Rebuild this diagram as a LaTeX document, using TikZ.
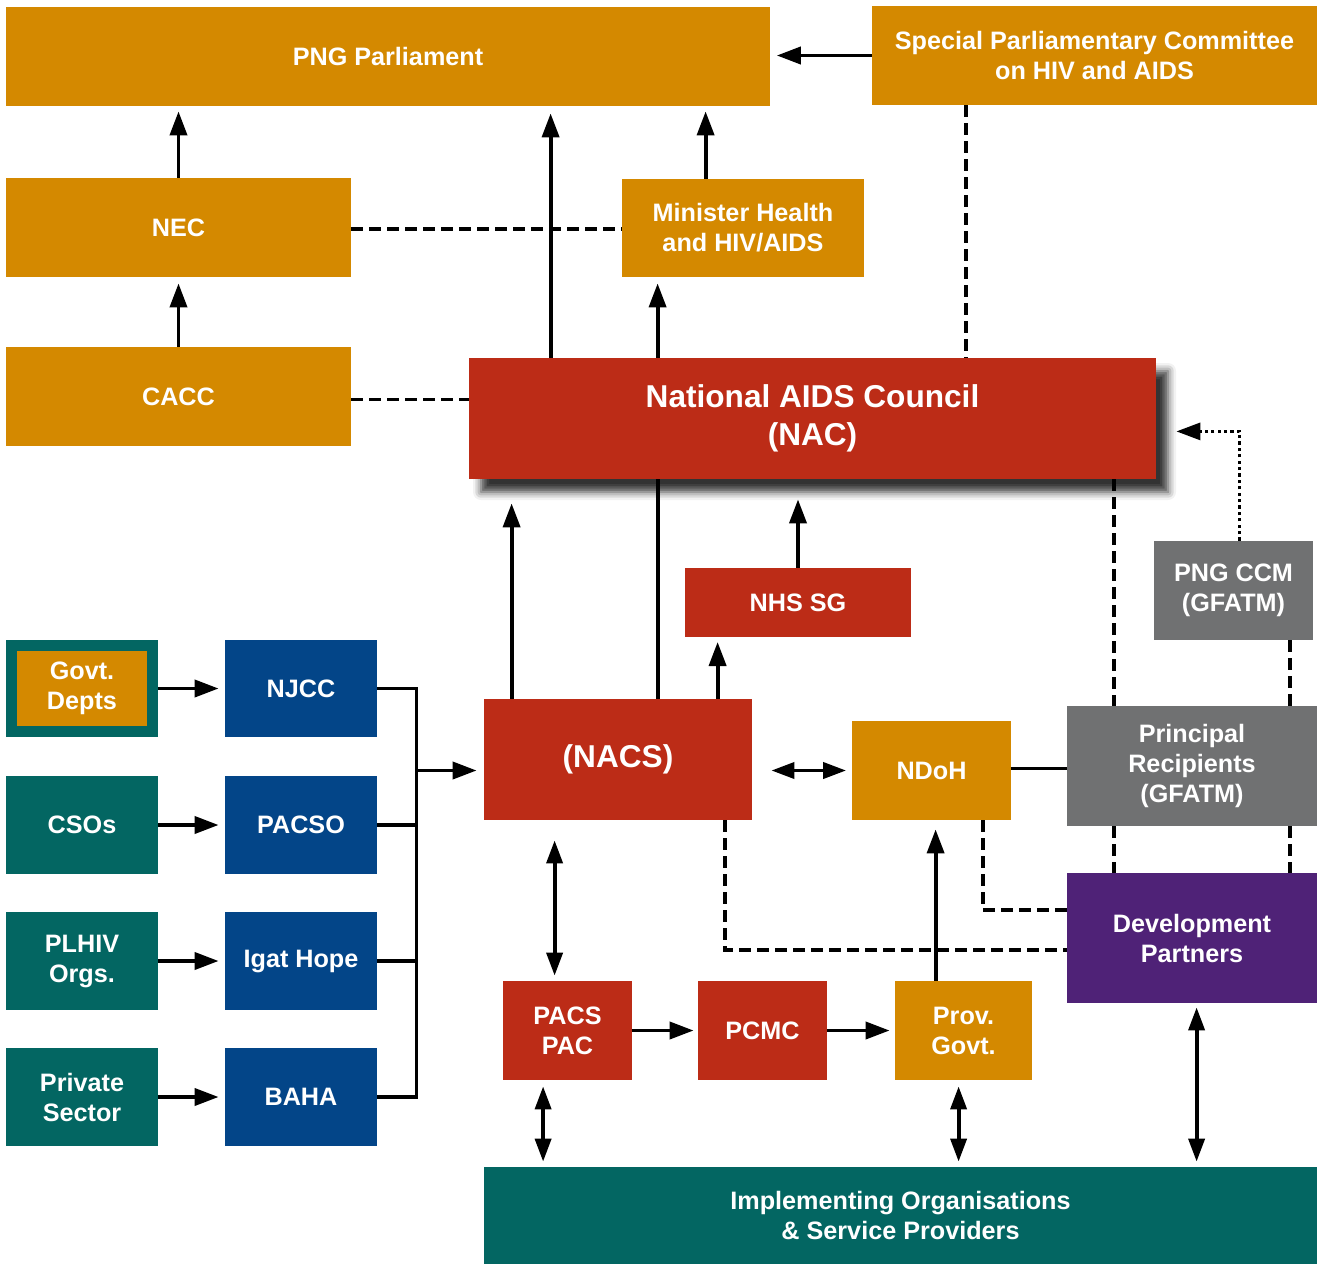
\documentclass[tikz,border=0pt]{standalone}
\usepackage{fontspec}
\setmainfont{Liberation Sans}
\usetikzlibrary{arrows.meta,fit,calc,shadows.blur}
\definecolor{cOr}{HTML}{D48900}
\definecolor{cRed}{HTML}{BC2C17}
\definecolor{cTeal}{HTML}{036662}
\definecolor{cBlue}{HTML}{034588}
\definecolor{cGray}{HTML}{707172}
\definecolor{cPur}{HTML}{4F2277}
\begin{document}
\begin{tikzpicture}[x=0.5pt,y=-0.5pt,
  box/.style={inner sep=0pt, draw=none},
  txt/.style={inner sep=0pt, text=white, align=center,
    font=\bfseries\fontsize{12.6pt}{15pt}\selectfont},
  bigtxt/.style={txt, font=\bfseries\fontsize{15.8pt}{19pt}\selectfont},
  arr/.style={line width=1.9pt, -{Triangle[length=12pt,width=8.5pt]}},
  darr/.style={line width=1.9pt, {Triangle[length=11.5pt,width=8pt]}-{Triangle[length=11.5pt,width=8pt]}},
  ln/.style={line width=1.9pt},
  dashln/.style={line width=1.9pt, dash pattern=on 6pt off 3pt},
  dotln/.style={line width=1.6pt, dash pattern=on 1.6pt off 1.6pt}]
\useasboundingbox (0,0) rectangle (1317,1264);
% ---------- boxes ----------
\node[box, fill=cOr, fit={(6,7) (770,106)}, label={[txt]center:PNG Parliament}] (parl) {};
\node[box, fill=cOr, fit={(872,6) (1317,105)}, label={[txt]center:{Special Parliamentary Committee\\on HIV and AIDS}}] (spc) {};
\node[box, fill=cOr, fit={(6,178) (351,277)}, label={[txt]center:NEC}] (nec) {};
\node[box, fill=cOr, fit={(622,179) (864,277)}, label={[txt]center:{Minister Health\\and HIV/AIDS}}] (min) {};
\node[box, fill=cOr, fit={(6,347) (351,446)}, label={[txt]center:CACC}] (cacc) {};
\node[box, fill=cRed, fit={(469,358) (1156,479)},
  blur shadow={shadow xshift=6pt, shadow yshift=-6.5pt, shadow blur radius=4pt, shadow opacity=80},
  label={[bigtxt]center:{National AIDS Council\\(NAC)}}] (nac) {};
\node[box, fill=cRed, fit={(685,568) (911,637)}, label={[txt]center:NHS SG}] (nhs) {};
\node[box, fill=cGray, fit={(1154,541) (1313,640)}, label={[txt]center:{PNG CCM\\(GFATM)}}] (ccm) {};
\node[box, fill=cTeal, fit={(6,640) (158,737)}] (govo) {};
\node[box, fill=cOr, fit={(17,651) (147,726)}, label={[txt]center:{Govt.\\Depts}}] (gov) {};
\node[box, fill=cBlue, fit={(225,640) (377,737)}, label={[txt]center:NJCC}] (njcc) {};
\node[box, fill=cTeal, fit={(6,776) (158,874)}, label={[txt]center:CSOs}] (csos) {};
\node[box, fill=cBlue, fit={(225,776) (377,874)}, label={[txt]center:PACSO}] (pacso) {};
\node[box, fill=cTeal, fit={(6,912) (158,1010)}, label={[txt]center:{PLHIV\\Orgs.}}] (plhiv) {};
\node[box, fill=cBlue, fit={(225,912) (377,1010)}, label={[txt]center:Igat Hope}] (igat) {};
\node[box, fill=cTeal, fit={(6,1048) (158,1146)}, label={[txt]center:{Private\\Sector}}] (priv) {};
\node[box, fill=cBlue, fit={(225,1048) (377,1146)}, label={[txt]center:BAHA}] (baha) {};
\node[box, fill=cRed, fit={(484,699) (752,820)}, label={[bigtxt]center:(NACS)}] (nacs) {};
\node[box, fill=cOr, fit={(852,721) (1011,820)}, label={[txt]center:NDoH}] (ndoh) {};
\node[box, fill=cGray, fit={(1067,706) (1317,826)}, label={[txt]center:{Principal\\Recipients\\(GFATM)}}] (pr) {};
\node[box, fill=cPur, fit={(1067,873) (1317,1003)}, label={[txt]center:{Development\\Partners}}] (dp) {};
\node[box, fill=cRed, fit={(503,981) (632,1080)}, label={[txt]center:{PACS\\PAC}}] (pacs) {};
\node[box, fill=cRed, fit={(698,981) (827,1080)}, label={[txt]center:PCMC}] (pcmc) {};
\node[box, fill=cOr, fit={(895,981) (1032,1080)}, label={[txt]center:{Prov.\\Govt.}}] (prov) {};
\node[box, fill=cTeal, fit={(484,1167) (1317,1264)}, label={[txt]center:{Implementing Organisations\\\& Service Providers}}] (impl) {};
% ---------- coordinates ----------
\coordinate (n551) at ($(nac.north west)+(82,0)$);
\coordinate (n658) at ($(nac.north west)+(189,0)$);
\coordinate (m706) at ($(min.north west)+(84,0)$);
\coordinate (s966) at ($(spc.south west)+(94,0)$);
\coordinate (a1114) at ($(nac.south west)+(645,0)$);
\coordinate (p1114) at ($(pr.south west)+(47,0)$);
\coordinate (c1290) at ($(ccm.south west)+(136,0)$);
\coordinate (p1290) at ($(pr.south west)+(223,0)$);
\coordinate (c1240) at ($(ccm.north west)+(86,0)$);
\coordinate (nactip) at ($(nac.south east)+(20,-48)$);
\coordinate (busT) at ($(njcc.east)+(39,0)$);
\coordinate (busB) at ($(baha.east)+(39,0)$);
\coordinate (busM) at ($(busT)+(0,82)$);
\coordinate (s512) at ($(nacs.north west)+(28,0)$);
\coordinate (s658) at ($(nacs.north west)+(174,0)$);
\coordinate (s718) at ($(nacs.north west)+(234,0)$);
\coordinate (d983) at ($(ndoh.south west)+(131,0)$);
\coordinate (d725) at ($(nacs.south west)+(241,0)$);
\coordinate (dpA) at ($(dp.west)+(0,-28)$);
\coordinate (dpB) at ($(dp.west)+(0,12)$);
\coordinate (v936) at ($(prov.north west)+(41,0)$);
\coordinate (v555) at ($(nacs.south west)+(71,0)$);
\coordinate (i543) at ($(pacs.south west)+(40.5,0)$);
\coordinate (i959) at ($(prov.south west)+(64,0)$);
\coordinate (i1197) at ($(dp.south west)+(130,0)$);
% ---------- top connectors ----------
\draw[arr, shorten >=2.5pt] (nec.north) -- (nec.north |- parl.south);
\draw[arr, shorten >=3pt] (cacc.north) -- (cacc.north |- nec.south);
\draw[arr, shorten >=3.2pt] (spc.west) -- (spc.west -| parl.east);
\draw[arr, shorten >=3.5pt] (n551) -- (n551 |- parl.south);
\draw[arr, shorten >=2.5pt] (m706) -- (m706 |- parl.south);
\draw[arr, shorten >=3pt] (n658) -- (n658 |- min.south);
\draw[dashln] ($(nec.east)+(0,1.5)$) -- ($(nec.east -| min.west)+(0,1.5)$);
\draw[dashln] ($(cacc.east)+(0,3)$) -- ($(cacc.east -| nac.west)+(0,3)$);
\draw[dashln] (s966) -- (s966 |- nac.north);
% ---------- right side ----------
\draw[dashln] (a1114) -- (a1114 |- pr.north);
\draw[dashln] (p1114) -- (p1114 |- dp.north);
\draw[dashln] (c1290) -- (c1290 |- pr.north);
\draw[dashln] (p1290) -- (p1290 |- dp.north);
\draw[dotln] (c1240) |- ($(nactip)+(20,0)$);
\draw[line width=1.6pt, -{Triangle[length=12pt,width=8.5pt]}] ($(nactip)+(22,0)$) -- (nactip);
% ---------- left column ----------
\draw[arr, shorten >=3pt] (govo.east) -- (njcc.west);
\draw[arr, shorten >=3pt] (csos.east) -- (pacso.west);
\draw[arr, shorten >=3pt] (plhiv.east) -- (igat.west);
\draw[arr, shorten >=3pt] (priv.east) -- (baha.west);
\draw[ln] (njcc.east) -- (busT) -- (busB) -- (baha.east);
\draw[ln] (pacso.east) -- (pacso.east -| busT);
\draw[ln] (igat.east) -- (igat.east -| busT);
\draw[arr, shorten >=3.5pt] (busM) -- (busM -| nacs.west);
% ---------- middle ----------
\draw[arr, shorten >=12pt] (s512) -- (s512 |- nac.south);
\draw[ln] (s658) -- (s658 |- nac.south);
\draw[arr, shorten >=2.3pt] (s718) -- (s718 |- nhs.south);
\draw[arr, shorten >=10pt] (nhs.north) -- (nhs.north |- nac.south);
\draw[darr, shorten <=9.5pt, shorten >=2.75pt] (ndoh.west -| nacs.east) -- (ndoh.west);
\draw[ln] ($(ndoh.east)+(0,-2)$) -- ($(ndoh.east -| pr.west)+(0,-2)$);
\draw[dashln] (d983) |- (dpA);
\draw[dashln] (d725) |- (dpB);
\draw[arr, shorten >=4.5pt] (v936) -- (v936 |- ndoh.south);
\draw[darr, shorten <=10pt, shorten >=2.5pt] (v555) -- (v555 |- pacs.north);
\draw[arr, shorten >=2pt] (pacs.east) -- (pcmc.west);
\draw[arr, shorten >=2.5pt] (pcmc.east) -- (prov.west);
% ---------- bottom ----------
\draw[darr, shorten <=3pt, shorten >=2.5pt] (i543) -- (i543 |- impl.north);
\draw[darr, shorten <=3pt, shorten >=2.5pt] (i959) -- (i959 |- impl.north);
\draw[darr, shorten <=2pt, shorten >=2.5pt] (i1197) -- (i1197 |- impl.north);
\end{tikzpicture}
\end{document}
